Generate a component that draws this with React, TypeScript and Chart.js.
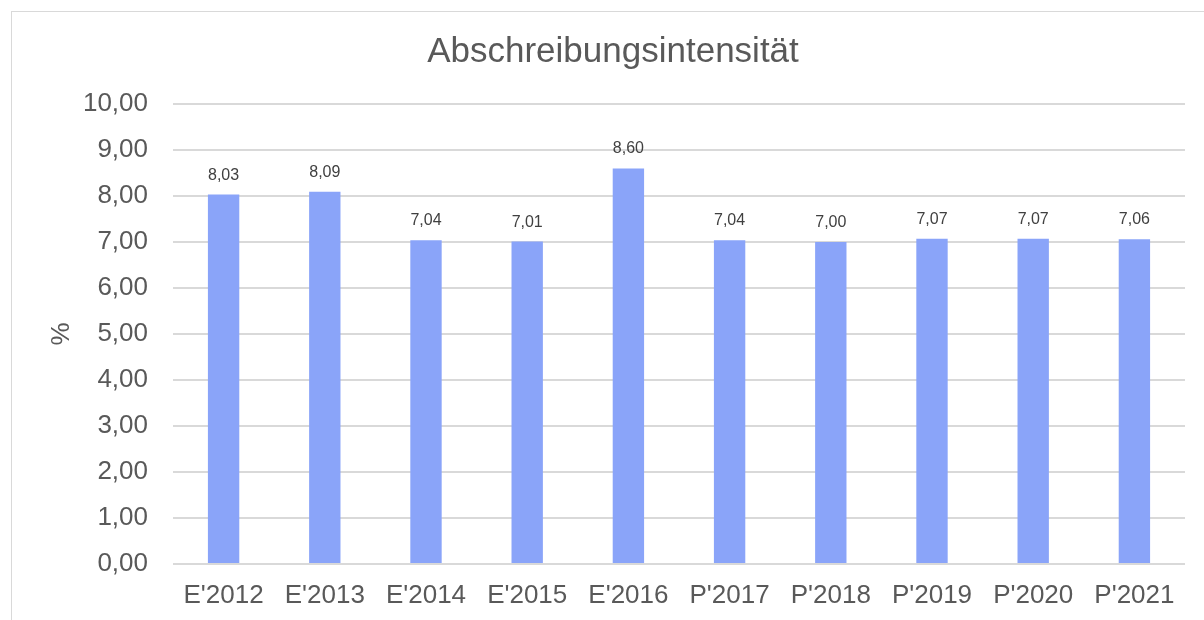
import React, { useEffect, useRef } from "react";
import { Chart, registerables } from "chart.js";

Chart.register(...registerables);

const categories = ["E'2012", "E'2013", "E'2014", "E'2015", "E'2016", "P'2017", "P'2018", "P'2019", "P'2020", "P'2021"];
const values = [8.03, 8.09, 7.04, 7.01, 8.6, 7.04, 7.0, 7.07, 7.07, 7.06];
const chartTitle = "Abschreibungsintensität";
const yAxisTitle = "%";

const FONT = "'Liberation Sans', Arial, sans-serif";
const fmt = (v: number) => v.toFixed(2).replace(".", ",");

const borderPlugin = {
  id: "outerBorder",
  beforeDraw(chart: any) {
    const ctx = chart.ctx;
    ctx.save();
    ctx.fillStyle = "#ffffff";
    ctx.fillRect(0, 0, chart.width, chart.height);
    ctx.strokeStyle = "#d9d9d9";
    ctx.lineWidth = 1;
    ctx.strokeRect(11.5, 11.5, 1400, 800);
    ctx.restore();
  },
};

const labelPlugin = {
  id: "barLabels",
  afterDatasetsDraw(chart: any) {
    const ctx = chart.ctx;
    const meta = chart.getDatasetMeta(0);
    ctx.save();
    ctx.font = "16px " + FONT;
    ctx.fillStyle = "#404040";
    ctx.textAlign = "center";
    ctx.textBaseline = "alphabetic";
    meta.data.forEach((bar: any, i: number) => {
      ctx.fillText(fmt(values[i]), bar.x, bar.y - 15);
    });
    ctx.restore();
  },
};

export default function App() {
  const ref = useRef<HTMLCanvasElement>(null);
  useEffect(() => {
    document.body.style.margin = "0";
    document.body.style.overflow = "hidden";
    const chart = new Chart(ref.current!, {
      type: "bar",
      data: {
        labels: categories,
        datasets: [
          {
            data: values,
            backgroundColor: "#8aa4f9",
            barPercentage: 0.31,
            categoryPercentage: 1,
          },
        ],
      },
      options: {
        animation: false,
        responsive: false,
        layout: { padding: { left: 41, right: 19, top: 0, bottom: 0 } },
        plugins: {
          legend: { display: false },
          tooltip: { enabled: false },
          title: {
            display: true,
            text: chartTitle,
            color: "#595959",
            font: { family: FONT, size: 35, weight: "normal" },
            padding: { top: 31, bottom: 31 },
          },
        },
        scales: {
          x: {
            grid: { display: false, drawTicks: false },
            border: { display: false },
            ticks: {
              color: "#595959",
              font: { family: FONT, size: 26 },
              padding: 16,
              maxRotation: 0,
              autoSkip: false,
            },
            afterFit(scale: any) {
              scale.height = 56;
            },
          },
          y: {
            min: 0,
            max: 10,
            grid: { color: "#d9d9d9", lineWidth: 2, drawTicks: false },
            border: { display: false },
            ticks: {
              stepSize: 1,
              color: "#595959",
              font: { family: FONT, size: 26 },
              padding: 25,
              callback: (v: any) => fmt(Number(v)),
            },
            title: {
              display: true,
              text: yAxisTitle,
              color: "#595959",
              font: { family: FONT, size: 26 },
              padding: { top: 5, bottom: 0 },
            },
            afterFit(scale: any) {
              scale.width = 132;
            },
          },
        },
      },
      plugins: [borderPlugin, labelPlugin],
    });
    return () => chart.destroy();
  }, []);
  return <canvas ref={ref} width={1204} height={620} style={{ display: "block" }} />;
}
